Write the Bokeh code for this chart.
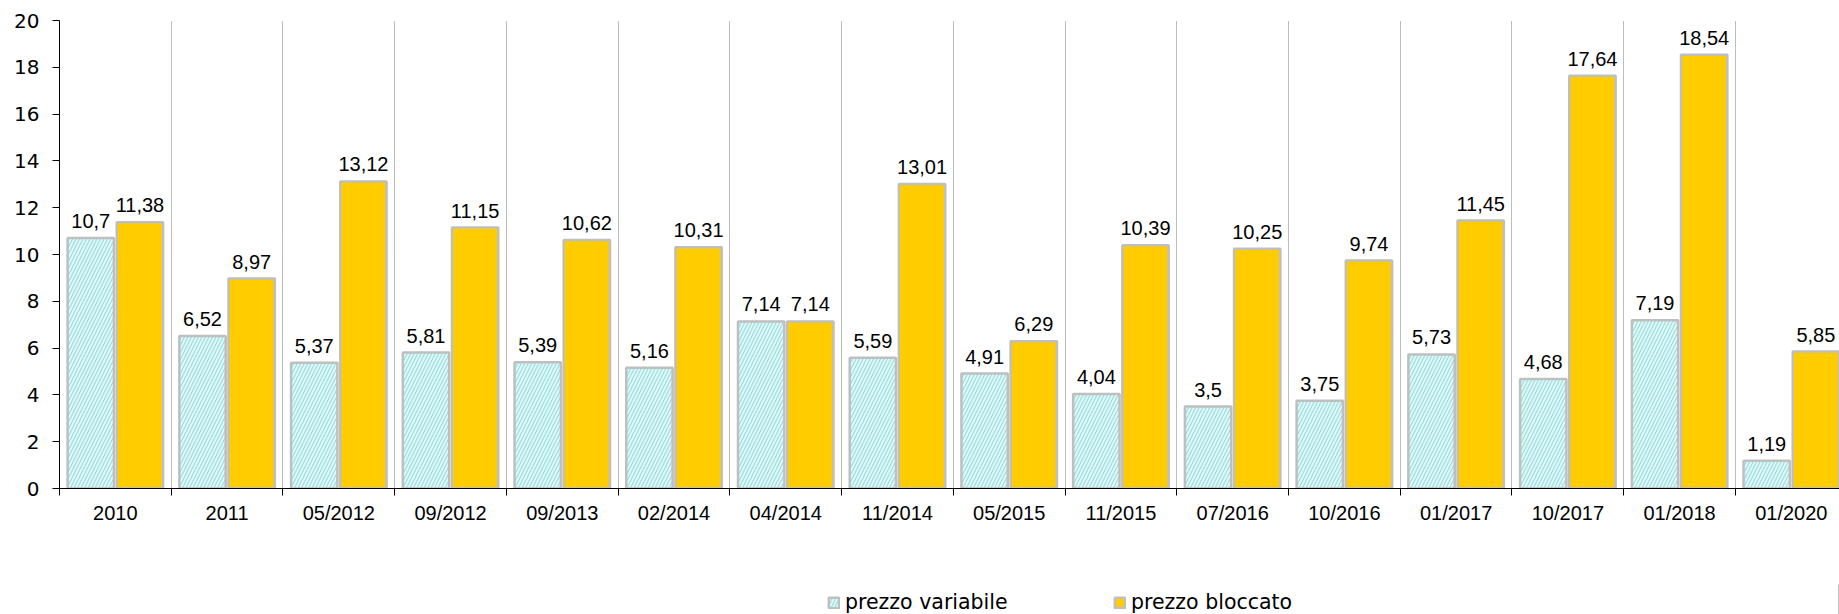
import numpy as np
from bokeh.plotting import figure
from bokeh.layouts import column
from bokeh.models import (ColumnDataSource, Range1d, FixedTicker, Legend, LegendItem)
from bokeh.core.properties import value
from bokeh.embed import file_html
from bokeh.resources import INLINE

categories = ["2010", "2011", "05/2012", "09/2012", "09/2013", "02/2014", "04/2014",
              "11/2014", "05/2015", "11/2015", "07/2016", "10/2016", "01/2017",
              "10/2017", "01/2018", "01/2020"]
prezzo_variabile = [10.7, 6.52, 5.37, 5.81, 5.39, 5.16, 7.14, 5.59, 4.91, 4.04, 3.5,
                    3.75, 5.73, 4.68, 7.19, 1.19]
prezzo_bloccato = [11.38, 8.97, 13.12, 11.15, 10.62, 10.31, 7.14, 13.01, 6.29, 10.39,
                   10.25, 9.74, 11.45, 17.64, 18.54, 5.85]
y_ticks = [0, 2, 4, 6, 8, 10, 12, 14, 16, 18, 20]

def fmt(v):
    return f"{v:g}".replace(".", ",")

n = len(categories)
idx = np.arange(n)
src_v = ColumnDataSource(dict(x=idx + 0.28, top=prezzo_variabile,
                              lbl=[fmt(v) for v in prezzo_variabile]))
src_b = ColumnDataSource(dict(x=idx + 0.72, top=prezzo_bloccato,
                              lbl=[fmt(v) for v in prezzo_bloccato]))

W = 1839
LEG_H = 30
H = 614 - LEG_H
LEFT, TOP = 59, 20
FRAME_H = 468
BOTTOM = H - TOP - FRAME_H
CAT_PX = 111.73

STYLE_V = dict(fill_color="#ccffff", line_color="#bfbfbf", line_width=2.5,
               hatch_pattern="/", hatch_color="#b4b4b4", hatch_weight=0.8,
               hatch_scale=7)
STYLE_B = dict(fill_color="#ffcc00", line_color="#bfbfbf", line_width=2.5)

p = figure(width=W, height=H, output_backend="svg", toolbar_location=None,
           x_range=Range1d(0, (W - LEFT) / CAT_PX), y_range=Range1d(0, 20),
           min_border_left=LEFT, min_border_right=0, min_border_top=TOP,
           min_border_bottom=BOTTOM)
p.outline_line_color = None
p.background_fill_color = "white"

BAR_W = 0.415
p.vbar(x="x", top="top", width=BAR_W, bottom=0, source=src_v, **STYLE_V)
p.vbar(x="x", top="top", width=BAR_W, bottom=0, source=src_b, **STYLE_B)

for s in (src_v, src_b):
    p.text(x="x", y="top", text="lbl", source=s, text_align="center",
           text_baseline="alphabetic", y_offset=-17, text_color="black",
           text_font=value("Liberation Sans"), text_font_size="20px")

# x axis: labels at category centres, tick marks at category boundaries (minor ticks)
centers = [i + 0.5 for i in range(n)]
bounds = [float(i) for i in range(n + 1)]
xa = p.xaxis[0]
xa.ticker = FixedTicker(ticks=centers, minor_ticks=bounds)
xa.major_label_overrides = {c: cat for c, cat in zip(centers, categories)}
xa.major_tick_out = 0
xa.major_tick_in = 0
xa.minor_tick_out = 7
xa.minor_tick_in = 0
xa.minor_tick_line_color = "black"
xa.axis_line_color = "black"
xa.major_label_standoff = 6
xa.major_label_text_font = "Liberation Sans"
xa.major_label_text_font_size = "20px"
xa.major_label_text_color = "black"

ya = p.yaxis[0]
ya.ticker = FixedTicker(ticks=y_ticks)
ya.major_tick_out = 7
ya.major_tick_in = 0
ya.minor_tick_out = 0
ya.minor_tick_in = 0
ya.axis_line_color = "black"
ya.major_tick_line_color = "black"
ya.major_label_standoff = 13
ya.major_label_text_font = "DejaVu Sans"
ya.major_label_text_font_size = "20px"
ya.major_label_text_color = "black"

p.xgrid.ticker = FixedTicker(ticks=bounds[1:-1])
p.xgrid.grid_line_color = "#7a7a7a"
p.xgrid.grid_line_dash = "1 1"
p.xgrid.grid_line_width = 1
p.ygrid.grid_line_color = None

# legend strip below the chart (its swatches come from off-screen bars)
pl = figure(width=W, height=LEG_H, output_backend="svg", toolbar_location=None,
            x_range=Range1d(0, 1), y_range=Range1d(0, 1),
            min_border_left=0, min_border_right=0, min_border_top=0,
            min_border_bottom=0)
pl.axis.visible = False
pl.grid.visible = False
pl.outline_line_color = None
lv = pl.vbar(x=[10], top=[1], width=0.1, **STYLE_V)
lb = pl.vbar(x=[10], top=[1], width=0.1, **STYLE_B)
legend = Legend(items=[LegendItem(label="prezzo variabile", renderers=[lv]),
                       LegendItem(label="prezzo bloccato", renderers=[lb])],
                location=(768, 0), orientation="horizontal",
                padding=0, margin=0, spacing=103, border_line_color=None,
                background_fill_alpha=0, glyph_width=13, glyph_height=13,
                label_standoff=5, label_width=165, label_text_font="DejaVu Sans",
                label_text_font_size="20.5px", label_text_color="black")
pl.add_layout(legend, "center")

layout = column(p, pl, spacing=0)
open("out.html", "w").write(file_html(layout, INLINE))
